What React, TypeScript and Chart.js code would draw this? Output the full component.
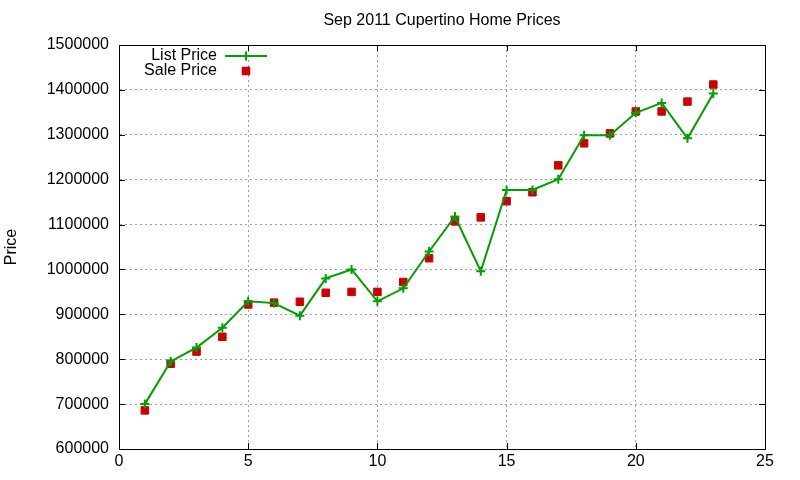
import { useEffect, useRef } from "react";
import { Chart, registerables } from "chart.js";

Chart.register(...registerables);

const FONT = "'Liberation Sans', Arial, sans-serif";

const MONTHS = [1, 2, 3, 4, 5, 6, 7, 8, 9, 10, 11, 12, 13, 14, 15, 16, 17, 18, 19, 20, 21, 22, 23];

const LIST_PRICE = [
  700000, 795000, 826000, 870000, 929000, 925000, 897000, 980000, 1000000, 929000,
  958000, 1040000, 1118000, 996000, 1177000, 1177000, 1201000, 1299000, 1299000,
  1349000, 1371000, 1292000, 1392000,
];

const SALE_PRICE = [
  686000, 790000, 817000, 850000, 922000, 926000, 928000, 948000, 950000, 950000,
  972000, 1025000, 1107000, 1116000, 1152000, 1172000, 1232000, 1281000, 1303000,
  1352000, 1352000, 1374000, 1412000,
];

const X_MIN = 0;
const X_MAX = 25;
const X_STEP = 5;
const Y_MIN = 600000;
const Y_MAX = 1500000;
const Y_STEP = 100000;

const GREEN = "#00a000";
const RED = "#cc0000";

// gnuplot-like frame: full border with inward ticks on all four sides
const framePlugin = {
  id: "frame",
  afterDraw(chart: any) {
    const { ctx, chartArea: a, scales } = chart;
    const len = 6;
    ctx.save();
    ctx.strokeStyle = "#000";
    ctx.lineWidth = 1;
    ctx.setLineDash([]);
    ctx.strokeRect(a.left + 0.5, a.top + 0.5, a.right - a.left, a.bottom - a.top);
    ctx.beginPath();
    scales.x.ticks.forEach((t: any) => {
      const px = Math.round(scales.x.getPixelForValue(t.value)) + 0.5;
      ctx.moveTo(px, a.bottom);
      ctx.lineTo(px, a.bottom - len);
      ctx.moveTo(px, a.top);
      ctx.lineTo(px, a.top + len);
    });
    scales.y.ticks.forEach((t: any) => {
      const py = Math.round(scales.y.getPixelForValue(t.value)) + 0.5;
      ctx.moveTo(a.left, py);
      ctx.lineTo(a.left + len, py);
      ctx.moveTo(a.right, py);
      ctx.lineTo(a.right - len, py);
    });
    ctx.stroke();
    ctx.restore();
  },
};

// key in the top-left corner: label right-aligned, sample to its right
const keyPlugin = {
  id: "key",
  afterDraw(chart: any) {
    const { ctx } = chart;
    const textRight = 217;
    const sampleLeft = 225;
    const sampleRight = 267;
    const rows = [56, 71];
    ctx.save();
    ctx.font = `16px ${FONT}`;
    ctx.textAlign = "right";
    ctx.textBaseline = "middle";
    chart.data.datasets.forEach((ds: any, i: number) => {
      const y = rows[i];
      const mid = (sampleLeft + sampleRight) / 2;
      ctx.fillStyle = "#000";
      ctx.fillText(ds.label, textRight, y);
      if (ds.showLine !== false) {
        ctx.strokeStyle = ds.borderColor;
        ctx.lineWidth = ds.borderWidth;
        ctx.beginPath();
        ctx.moveTo(sampleLeft, y);
        ctx.lineTo(sampleRight, y);
        ctx.stroke();
      }
      const r = ds.pointRadius;
      if (ds.pointStyle === "cross") {
        ctx.strokeStyle = ds.borderColor;
        ctx.lineWidth = ds.pointBorderWidth;
        ctx.beginPath();
        ctx.moveTo(mid - r, y);
        ctx.lineTo(mid + r, y);
        ctx.moveTo(mid, y - r);
        ctx.lineTo(mid, y + r);
        ctx.stroke();
      } else {
        const s = r * Math.SQRT1_2 + 0.5;
        ctx.fillStyle = ds.backgroundColor;
        ctx.fillRect(mid - s, y - s, 2 * s, 2 * s);
      }
    });
    ctx.restore();
  },
};

export default function App() {
  const canvasRef = useRef<HTMLCanvasElement>(null);
  const chartRef = useRef<any>(null);

  useEffect(() => {
    if (!canvasRef.current) return;
    if (chartRef.current) chartRef.current.destroy();

    const listData = MONTHS.map((m, i) => ({ x: m, y: LIST_PRICE[i] }));
    const saleData = MONTHS.map((m, i) => ({ x: m, y: SALE_PRICE[i] }));

    chartRef.current = new Chart(canvasRef.current, {
      type: "line",
      data: {
        datasets: [
          {
            label: "List Price",
            data: listData,
            borderColor: GREEN,
            backgroundColor: GREEN,
            borderWidth: 2,
            pointStyle: "cross",
            pointRadius: 4.5,
            pointBorderWidth: 2,
            pointBorderColor: GREEN,
            tension: 0,
          } as any,
          {
            label: "Sale Price",
            data: saleData,
            showLine: false,
            borderColor: RED,
            backgroundColor: RED,
            borderWidth: 1,
            pointStyle: "rect",
            pointRadius: 5.3,
            pointBorderWidth: 1,
            pointBackgroundColor: RED,
            pointBorderColor: RED,
          } as any,
        ],
      },
      options: {
        animation: false,
        responsive: true,
        maintainAspectRatio: false,
        layout: { padding: { left: 0, right: 35, top: 0, bottom: 0 } },
        plugins: {
          legend: { display: false },
          tooltip: { enabled: false },
          title: { display: false },
        },
        scales: {
          x: {
            type: "linear",
            min: X_MIN,
            max: X_MAX,
            ticks: {
              stepSize: X_STEP,
              color: "#000",
              font: { family: FONT, size: 16 },
              padding: 3,
              maxRotation: 0,
            },
            grid: {
              color: "#a0a0a0",
              drawTicks: false,
            },
            border: { display: true, color: "#000", dash: [2, 3] },
            afterFit: (scale: any) => {
              scale.height = 31;
            },
          },
          // top axis only carries the title, centred over the plot like gnuplot
          top: {
            type: "linear",
            position: "top",
            min: X_MIN,
            max: X_MAX,
            ticks: { display: false },
            grid: { display: false, drawTicks: false },
            border: { display: false },
            title: {
              display: true,
              text: "Sep 2011 Cupertino Home Prices",
              color: "#000",
              font: { family: FONT, size: 16 },
              padding: { top: 11, bottom: 0 },
            },
            afterFit: (scale: any) => {
              scale.height = 45;
            },
          },
          y: {
            type: "linear",
            min: Y_MIN,
            max: Y_MAX,
            title: {
              display: true,
              text: "Price",
              color: "#000",
              font: { family: FONT, size: 16 },
              padding: { top: 2, bottom: 0 },
            },
            ticks: {
              stepSize: Y_STEP,
              color: "#000",
              font: { family: FONT, size: 16 },
              padding: 10,
              callback: (v: any) => String(v),
            },
            grid: {
              color: "#a0a0a0",
              drawTicks: false,
            },
            border: { display: true, color: "#000", dash: [2, 3] },
            afterFit: (scale: any) => {
              scale.width = 119;
            },
          },
        },
      },
      plugins: [framePlugin, keyPlugin],
    });

    return () => {
      if (chartRef.current) {
        chartRef.current.destroy();
        chartRef.current = null;
      }
    };
  }, []);

  return (
    <div
      style={{
        position: "fixed",
        left: 0,
        top: 0,
        width: 800,
        height: 480,
        background: "#fff",
      }}
    >
      <canvas ref={canvasRef} />
    </div>
  );
}
